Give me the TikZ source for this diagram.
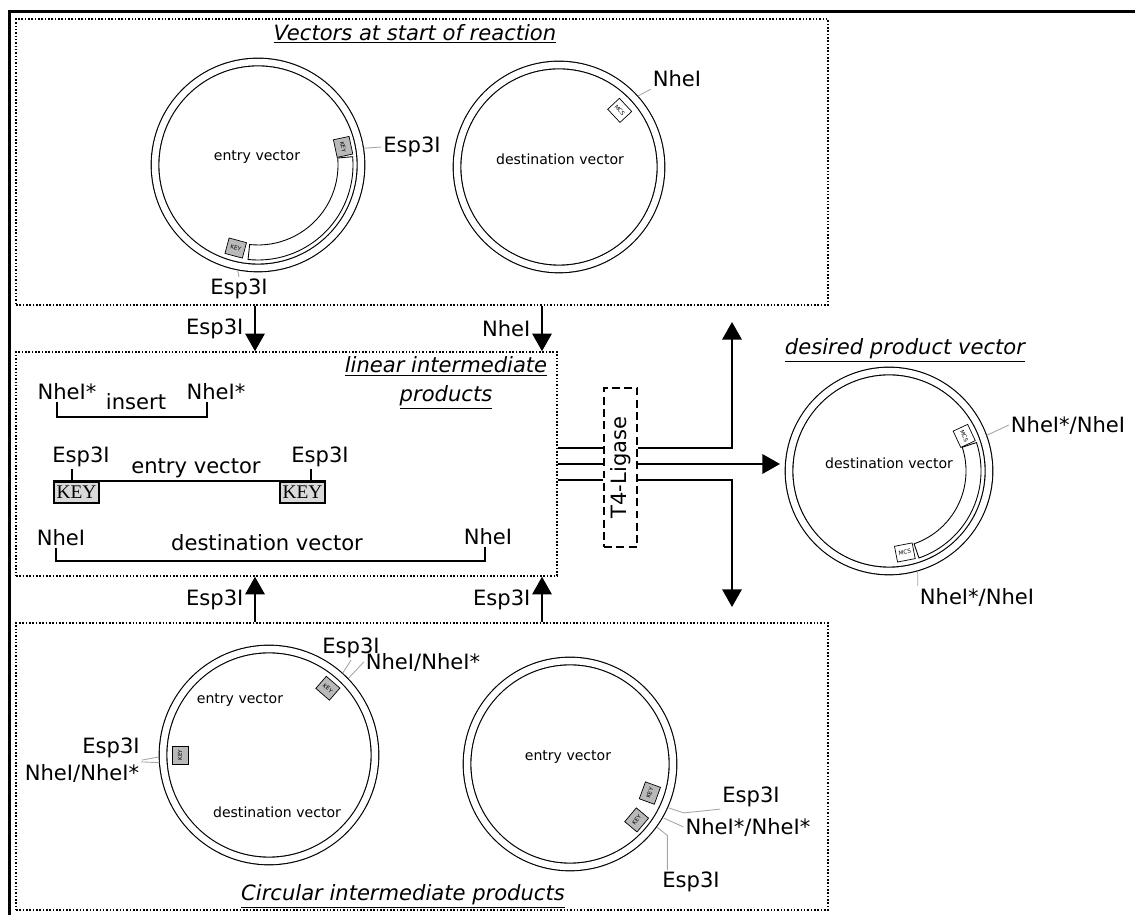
\documentclass[tikz,border=0pt]{standalone}
\usepackage{fontspec}
\setmainfont{DejaVu Sans}
\newfontfamily\keyfont{Liberation Serif}
\usetikzlibrary{arrows.meta,calc,positioning}

\begin{document}
\begin{tikzpicture}[
    x = 0.02cm, y = 0.02cm, % one unit is one pixel of the sketch
    font = \fontsize{12}{14}\selectfont,
    inner sep = 1pt,
    > = {Triangle[width=11pt,length=10pt]}
    ]

    \tikzset{
    dotbox/.style = {draw, densely dotted, line width=0.9pt, inner sep=0},
    ligbox/.style = {draw, dash pattern=on 4.5pt off 2.5pt, line width=1.2pt, inner sep=0},
    plasmid/.style = {circle, draw, line width=0.65pt, double, double distance=0.13cm, inner sep=0},
    keybox/.style = {draw, fill=gray!55, line width=0.4pt, minimum width=0.36cm, minimum height=0.32cm,
                     inner sep=0, font=\fontsize{3.2}{4}\selectfont},
    mcsbox/.style = {keybox, fill=white},
    keylin/.style = {draw, fill=gray!30, line width=1.2pt, minimum width=0.9cm, minimum height=0.42cm,
                     inner sep=0, font=\keyfont\fontsize{11}{11}\selectfont},
    band/.style = {draw, line width=0.5pt},
    vtext/.style = {font=\fontsize{8}{9}\selectfont},
    ttl/.style = {font=\fontsize{12}{16}\selectfont\itshape},
    bond/.style = {line width=1.2pt},
    arr/.style = {line width=1.2pt},
    leader/.style = {draw=gray!70, line width=0.5pt}
    }

    \useasboundingbox (0,0) rectangle (1135,915);
    \draw[line width=1.7pt] (9.5,0) -- (9.5,903.5) -- (1135,903.5);

    % the three boxes
    \node[dotbox, minimum width=16.24cm, minimum height=5.72cm] (top) at (422,753) {};
    \node[dotbox, minimum width=10.82cm, minimum height=4.48cm] (lin) at (286.5,451) {};
    \node[dotbox, minimum width=16.24cm, minimum height=5.74cm] (circ) at (422,148.5) {};

    \node[ttl] (t-top) at (415,881) {\underline{Vectors at start of reaction}};
    \node[ttl, align=center] (t-lin) at (446,532) {\underline{linear intermediate}\\\underline{products}};
    \node[ttl] (t-dp) at (905,565) {\underline{desired product vector}};
    \node[ttl] (t-circ) at (403,19) {\underline{Circular intermediate products}};

    % vectors at start
    \node[plasmid, minimum size=4.12cm] (ev) at (258,750) {};
    \node[vtext] (ev-t) at (257,758) {entry vector};
    \node[keybox, rotate=-78] (ev-k1) at ($(ev)+(12:87)$) {KEY};
    \node[keybox, rotate=-15] (ev-k2) at ($(ev)+(-105:86)$) {KEY};
    \path[band] ($(ev)+(5:95)$) arc[start angle=5, end angle=-96, radius=95]
        -- ($(ev)+(-96:80)$) arc[start angle=-96, end angle=5, radius=80] -- cycle;
    \node (ev-e1) at (412,768) {Esp3I};
    \node (ev-e2) at (239,626) {Esp3I};
    \draw[leader] ($(ev)+(9:107)$) -- (ev-e1.west);
    \draw[leader] ($(ev)+(-101:107)$) -- (ev-e2.north);

    \node[plasmid, minimum size=4.08cm] (dv) at (559,748) {};
    \node[vtext] (dv-t) at (560,756) {destination vector};
    \node[mcsbox, rotate=-47] (dv-m) at ($(dv)+(43:83)$) {MCS};
    \node (dv-nhe) at (677,836) {NheI};
    \draw[leader] ($(dv)+(42:106)$) -- (dv-nhe.south west);

    % digestion
    \coordinate (xa) at (255,0);
    \coordinate (xb) at (542,0);
    \draw[->, arr] (top.south -| xa) -- node[left=5pt]{Esp3I} (lin.north -| xa);
    \draw[->, arr] (top.south -| xb) -- node[left=5pt]{NheI} (lin.north -| xb);
    \draw[->, arr] (circ.north -| xa) -- node[left=5pt]{Esp3I} (lin.south -| xa);
    \draw[->, arr] (circ.north -| xb) -- node[left=5pt]{Esp3I} (lin.south -| xb);

    % linear intermediate products
    \node (ins-l) at (67,523) {NheI*};
    \node (ins-r) at (216,523) {NheI*};
    \node (ins) at (136,513) {insert};
    \coordinate (ia) at (57,498);
    \coordinate (ib) at (207,498);
    \draw[bond] (ia |- ins-l.south) -- (ia) -- (ib) -- (ib |- ins-r.south);

    \node[keylin] (k-l) at (76.5,422.5) {KEY};
    \node[keylin] (k-r) at (302.5,422.5) {KEY};
    \draw[bond] (k-l.north west) -- (k-r.north east);
    \node (e-l) at (81,458) {Esp3I};
    \node (e-r) at (320,458) {Esp3I};
    \coordinate (ta) at (72,433);
    \coordinate (tb) at (311,433);
    \draw[bond] (ta) -- (ta |- e-l.south);
    \draw[bond] (tb) -- (tb |- e-r.south);
    \node (ev-lin) at (196,447) {entry vector};

    \node (n-l) at (61,377) {NheI};
    \node (n-r) at (488,378) {NheI};
    \coordinate (da) at (56,354);
    \coordinate (db) at (485,354);
    \draw[bond] (da |- n-l.south) -- (da) -- (db) -- (db |- n-r.south);
    \node (dv-lin) at (267,372) {destination vector};

    % ligation
    \node[ligbox, minimum width=0.66cm, minimum height=3.18cm] (lig) at (620.5,447.5) {\rotatebox{90}{T4-Ligase}};
    \coordinate (ya) at (0,467);
    \coordinate (yb) at (0,451);
    \coordinate (yc) at (0,435);
    \coordinate (up) at (732,593);
    \coordinate (dn) at (732,308);
    \draw[bond] (lin.east |- ya) -- (lig.west |- ya);
    \draw[bond] (lin.east |- yb) -- (lig.west |- yb);
    \draw[bond] (lin.east |- yc) -- (lig.west |- yc);

    % desired product
    \node[plasmid, minimum size=4cm] (dp) at (889,444) {};
    \node[vtext] (dp-t) at (889,452) {destination vector};
    \node[mcsbox, rotate=-65] (dp-m1) at ($(dp)+(25:83)$) {MCS};
    \node[mcsbox, rotate=11] (dp-m2) at ($(dp)+(-79:83)$) {MCS};
    \path[band] ($(dp)+(18:92)$) arc[start angle=18, end angle=-71, radius=92]
        -- ($(dp)+(-71:77)$) arc[start angle=-71, end angle=18, radius=77] -- cycle;
    \node (dp-n1) at (1068,490) {NheI*/NheI};
    \node (dp-n2) at (977,318) {NheI*/NheI};
    \draw[leader] ($(dp)+(20:104)$) -- (dp-n1.west);
    \draw[leader] ($(dp)+(-74:104)$) -- (dp-n2.north west);

    \draw[->, arr] (lig.east |- ya) -| (up);
    \draw[->, arr, shorten >=4.8pt] (lig.east |- yb) -- (dp.west |- yb);
    \draw[->, arr] (lig.east |- yc) -| (dn);

    % circular intermediate products
    \node[plasmid, minimum size=4.24cm] (c1) at (269,160) {};
    \node[vtext] (c1-t1) at (240,215) {entry vector};
    \node[vtext] (c1-t2) at (277,103) {destination vector};
    \node[keybox, rotate=-41] (c1-k1) at ($(c1)+(48.6:89)$) {KEY};
    \node[keybox, rotate=90] (c1-k2) at ($(c1)+(180:89)$) {KEY};
    \node (c1-e1) at (351,267) {Esp3I};
    \node (c1-n1) at (423,253) {NheI/NheI*};
    \node (c1-e2) at (111,167) {Esp3I};
    \node (c1-n2) at (82,142) {NheI/NheI*};
    \draw[leader] ($(c1)+(48:110)$) -- (c1-e1.south);
    \draw[leader] ($(c1)+(44:111)$) -- (c1-n1.west);
    \draw[leader] ($(c1)+(181:110)$) -- (c1-e2.south east);
    \draw[leader] ($(c1)+(184:110)$) -- (c1-n2.north east);

    \node[plasmid, minimum size=4.12cm] (c2) at (570,151) {};
    \node[vtext] (c2-t) at (568,158) {entry vector};
    \node[keybox, rotate=70] (c2-k1) at ($(c2)+(-20:85)$) {KEY};
    \node[keybox, rotate=50] (c2-k2) at ($(c2)+(-40:87)$) {KEY};
    \node (c2-e1) at (751,118) {Esp3I};
    \node (c2-n1) at (748,88) {NheI*/NheI*};
    \node (c2-e2) at (691,33) {Esp3I};
    \coordinate (c2-k) at ($(c2)+(-36:108)+(10,-8)$);
    \draw[leader] ($(c2)+(-24:108)$) -- ++(15,-5) -- (c2-e1.south west);
    \draw[leader] ($(c2)+(-30:108)$) -- (c2-n1.west);
    \draw[leader] ($(c2)+(-36:108)$) -- (c2-k) -- (c2-k |- c2-e2.north);
\end{tikzpicture}
\end{document}
